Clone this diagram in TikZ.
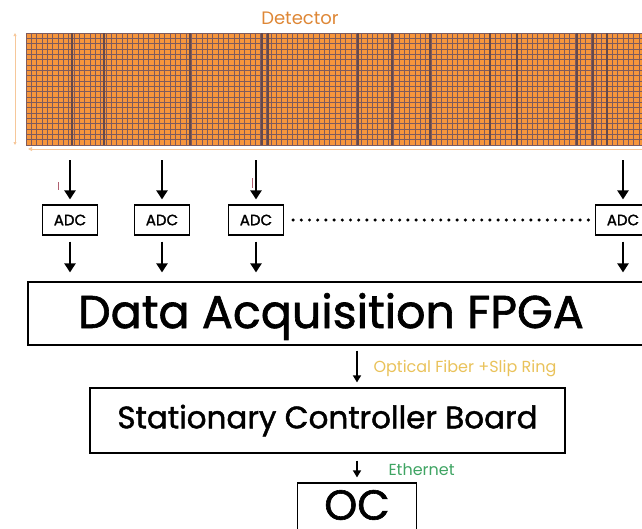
\documentclass[tikz,border=0pt]{standalone}
\usepackage{fontspec}
\setmainfont{Poppins}[FakeBold=1.4]
\newfontfamily\thinfont{Poppins}
\usetikzlibrary{arrows.meta, positioning}
\definecolor{detorange}{HTML}{F7963C}
\definecolor{detline}{HTML}{7E5B5E}
\definecolor{dimorange}{HTML}{F6C79A}
\definecolor{fibre}{HTML}{E9C25A}
\definecolor{ether}{HTML}{3FA463}
\definecolor{tick}{HTML}{B06070}

\begin{document}
\begin{tikzpicture}[x=1pt,y=-1pt,
  blk/.style={draw, line width=1.2pt, inner sep=0pt},
  adc/.style={blk, minimum width=55pt, minimum height=30pt, font=\fontsize{15}{15}\selectfont},
  arr/.style={-{Triangle[length=9pt,width=11pt]}, line width=2.6pt},
  sarr/.style={-{Triangle[length=7pt,width=8pt]}, line width=1.5pt},
  dim/.style={dimorange, line width=0.9pt}]
  \clip (0,0) rectangle (642,528);

  % detector
  \node[inner sep=0pt, minimum width=634pt, minimum height=112pt] (det) at (343,89) {};
  \fill[detorange] (det.north west) rectangle (det.south east);
  \foreach \i in {0,...,21}
    \draw[detline, line width=0.7pt] (26,33+\i*5.33) -- (660,33+\i*5.33);
  \foreach \i in {0,...,119}
    \draw[detline, line width=0.7pt] (26+\i*5.33,33) -- (26+\i*5.33,145);
  \foreach \x in {72,104,190,262,268,358,392,430,490,517,577,593,607}
    \draw[detline!80!black, line width=1.3pt] (\x,33) -- (\x,145);
  \node[text=detorange!90!black, font=\thinfont\fontsize{18}{18}\selectfont] (dettitle) at (300,18) {Detector};
  \draw[dim, {Triangle[length=3pt,width=3pt]}-{Triangle[length=3pt,width=3pt]}] (15,33) -- (15,145);
  \draw[dim, {Triangle[length=4pt,width=4pt]}-] (28,149) -- (660,149);

  % ADCs
  \foreach \x/\n in {70/1,162/2,256/3,623/4} {
    \node[adc] (adc\n) at (\x,220) {ADC};
    \coordinate (top\n) at (\x,160);
    \draw[arr, shorten >=5pt] (top\n) -- (adc\n.north);
  }
  \draw[tick, line width=0.8pt] (58,182) -- (58,190);
  \draw[tick, line width=0.8pt] (252,178) -- (252,188);
  \draw[line width=3.4pt, line cap=round, dash pattern=on 0pt off 8.2pt, shorten <=9pt, shorten >=5pt] (adc3.east) -- (adc4.west);

  % FPGA and below
  \node[blk, minimum width=632pt, minimum height=63pt,
    label={[font=\fontsize{46}{46}\selectfont, xshift=-13pt, yshift=-3pt]center:Data Acquisition FPGA}] (fpga) at (344,313.5) {};
  \foreach \n in {1,...,4}
    \draw[arr, shorten <=6pt, shorten >=9pt] (adc\n.south) -- (adc\n.south |- fpga.north);

  \node[blk, minimum width=475pt, minimum height=65pt, font=\fontsize{31}{31}\selectfont] (scb) at (327.5,420.5) {Stationary Controller Board};
  \node[blk, minimum width=119pt, minimum height=70pt,
    label={[font=\fontsize{42}{42}\selectfont, yshift=13pt]center:OC}] (oc) at (357,518) {};

  \draw[sarr, shorten <=5pt, shorten >=5pt] (fpga.south -| oc.north) -- (scb.north -| oc.north);
  \node[text=fibre, font=\thinfont\fontsize{16}{16}\selectfont, anchor=west] (fibrelbl) at (370,369) {Optical Fiber +Slip Ring};
  \draw[sarr, shorten <=7pt, shorten >=5pt] (scb.south -| oc.north) -- (oc.north);
  \node[text=ether, font=\thinfont\fontsize{16}{16}\selectfont, anchor=west] (etherlbl) at (385,470) {Ethernet};
\end{tikzpicture}
\end{document}
